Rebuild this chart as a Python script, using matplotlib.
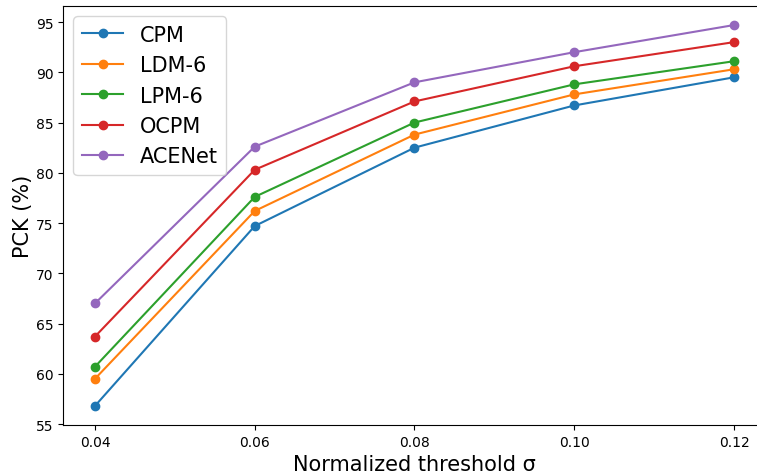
import matplotlib
matplotlib.use("Agg")
import matplotlib.pyplot as plt

thresholds = [0.04, 0.06, 0.08, 0.10, 0.12]
tick_labels = ["0.04", "0.06", "0.08", "0.10", "0.12"]

cpm = [56.8, 74.7, 82.5, 86.7, 89.5]
ldm6 = [59.5, 76.2, 83.8, 87.8, 90.3]
lpm6 = [60.7, 77.6, 85.0, 88.8, 91.1]
ocpm = [63.7, 80.3, 87.1, 90.6, 93.0]
acenet = [67.0, 82.6, 89.0, 92.0, 94.7]

series = [("CPM", cpm), ("LDM-6", ldm6), ("LPM-6", lpm6), ("OCPM", ocpm), ("ACENet", acenet)]


def main():
    fig = plt.figure(figsize=(7.57, 4.77), dpi=100)
    # axes runs a bit past the right edge, like the cropped original
    ax = fig.add_axes([63 / 757, 51 / 477, 703 / 757, 419 / 477])

    for name, vals in series:
        ax.plot(thresholds, vals, marker="o", label=name)

    ax.set_xticks(thresholds)
    ax.set_xticklabels(tick_labels)
    ax.set_xlabel("Normalized threshold σ", fontsize=15)
    ax.set_ylabel("PCK (%)", fontsize=15, labelpad=2)
    ax.legend(loc="upper left", fontsize=15)

    fig.savefig("out.png", dpi=100)


if __name__ == "__main__":
    main()
